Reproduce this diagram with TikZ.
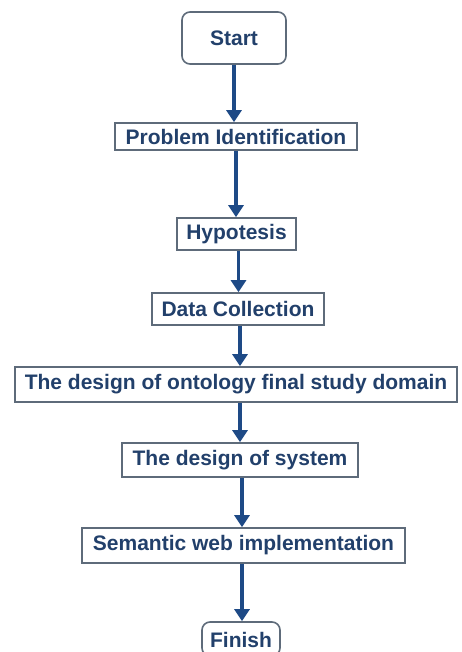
\documentclass[tikz,border=0pt]{standalone}
\usepackage{fontspec}
\setmainfont{Liberation Sans}
\usetikzlibrary{arrows.meta}
\definecolor{Navy}{HTML}{22406B}
\definecolor{Arrow}{HTML}{1E4A86}
\definecolor{Frame}{HTML}{5E6B7A}
\tikzset{
  stage/.style={
    draw=Frame, line width=1.6pt, fill=white, text=Navy,
    inner sep=0pt, align=center,
    font=\fontsize{21}{24}\selectfont\bfseries
  },
  terminal/.style={stage, rounded corners=8pt},
  flow/.style={-{Triangle[length=12pt,width=15pt]}, line width=3.2pt, draw=Arrow}
}

\begin{document}
\begin{tikzpicture}[x=1pt,y=-1pt]
    \useasboundingbox (0,0) rectangle (462,652);
    \node[terminal,minimum width=104pt,minimum height=52pt] (start) at (234,38) {Start};
    \node[stage,minimum width=242pt,minimum height=27pt] (problem) at (236,136.5) {Problem Identification};
    \node[stage,minimum width=119pt,minimum height=32pt] (hypo) at (236.5,234) {Hypotesis};
    \node[stage,minimum width=172pt,minimum height=32pt] (data) at (238,309) {Data Collection};
    \node[stage,minimum width=442pt,minimum height=35pt] (onto) at (236,384.5) {The design of ontology final study domain};
    \node[stage,minimum width=236pt,minimum height=34pt] (system) at (240,460) {The design of system};
    \node[stage,minimum width=323pt,minimum height=35pt] (semweb) at (243.5,545.5) {Semantic web implementation};
    \node[terminal,minimum width=78pt,minimum height=34pt,text depth=0pt] (finish) at (241,639) {\raisebox{-2pt}{Finish}};
    \draw[flow] (start.south) -- (start.south |- problem.north);
    \draw[flow] (problem.south) -- (problem.south |- hypo.north);
    \draw[flow] ([xshift=2pt]hypo.south) -- ([xshift=2pt]hypo.south |- data.north);
    \draw[flow] ([xshift=2pt]data.south) -- ([xshift=2pt]data.south |- onto.north);
    \draw[flow] ([xshift=4pt]onto.south) -- ([xshift=4pt]onto.south |- system.north);
    \draw[flow] ([xshift=2pt]system.south) -- ([xshift=2pt]system.south |- semweb.north);
    \draw[flow] ([xshift=-1.5pt]semweb.south) -- ([xshift=-1.5pt]semweb.south |- finish.north);
  \end{tikzpicture}
\end{document}
